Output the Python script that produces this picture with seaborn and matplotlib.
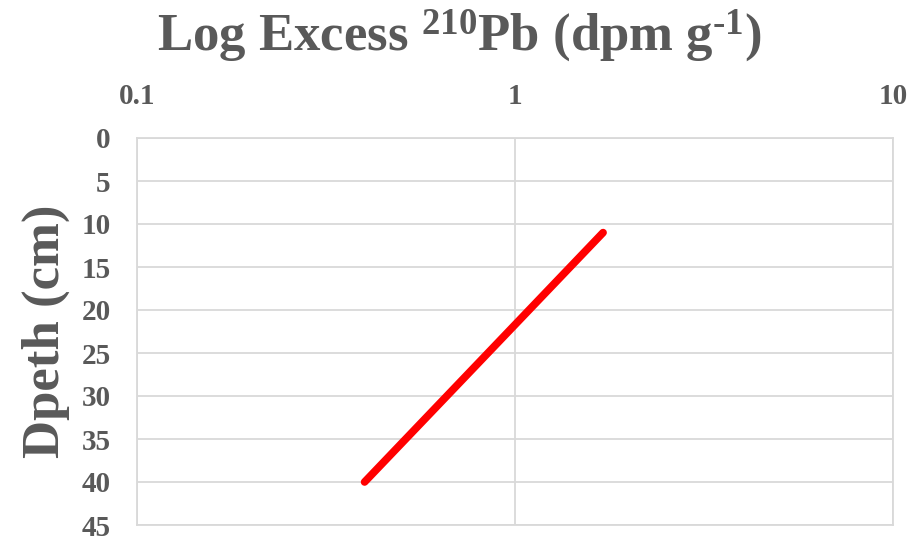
import matplotlib
matplotlib.use("Agg")
import matplotlib.pyplot as plt
import seaborn as sns
import pandas as pd
from matplotlib.ticker import FixedLocator, FixedFormatter

excess_pb = [1.71, 0.40]
depth_cm = [11, 40]
x_ticks = [0.1, 1, 10]
x_tick_labels = ["0.1", "1", "10"]
y_ticks = list(range(0, 50, 5))

sns.set_theme(style="white")
plt.rcParams['font.family'] = ['Liberation Serif', 'DejaVu Serif']
plt.rcParams['mathtext.fontset'] = 'custom'
plt.rcParams['mathtext.rm'] = 'Liberation Serif:bold'
plt.rcParams['mathtext.bf'] = 'Liberation Serif:bold'
plt.rcParams['mathtext.it'] = 'Liberation Serif:bold:italic'

df = pd.DataFrame({"pb": excess_pb, "depth": depth_cm})

fig = plt.figure(figsize=(9.18, 5.39), dpi=100)
ax = fig.add_axes([137/918, 1 - 525/539, (893-137)/918, (525-138)/539])

grid_c = "#d9d9d9"
text_c = "#595959"

sns.lineplot(data=df, x="pb", y="depth", ax=ax, color="#ff0000", linewidth=5.5,
             solid_capstyle="round", sort=False)

ax.set_xscale("log")
ax.set_xlim(0.1, 10)
ax.set_ylim(45, 0)
ax.xaxis.set_major_locator(FixedLocator(x_ticks))
ax.xaxis.set_major_formatter(FixedFormatter(x_tick_labels))
ax.xaxis.set_minor_locator(FixedLocator([]))
ax.set_yticks(y_ticks)
ax.xaxis.tick_top()
ax.grid(True, color=grid_c, linewidth=1.3)
ax.set_axisbelow(True)
for s in ax.spines.values():
    s.set_color(grid_c)
    s.set_linewidth(1.3)
ax.tick_params(axis="both", length=0, labelsize=21, labelcolor=text_c)
ax.tick_params(axis="x", pad=20)
ax.tick_params(axis="y", pad=19)
for lab in ax.get_xticklabels() + ax.get_yticklabels():
    lab.set_fontweight("bold")

ax.set_xlabel("")
ax.set_ylabel("Dpeth (cm)", fontsize=38, fontweight="bold", color=text_c, labelpad=8)
fig.text(0.5, 1 - 50/539, r"Log Excess $^{\mathrm{210}}$Pb (dpm g$^{\mathrm{\text{-}1}}$)",
         ha="center", va="baseline", fontsize=38, fontweight="bold", color=text_c)

fig.savefig("out.png", dpi=100)
